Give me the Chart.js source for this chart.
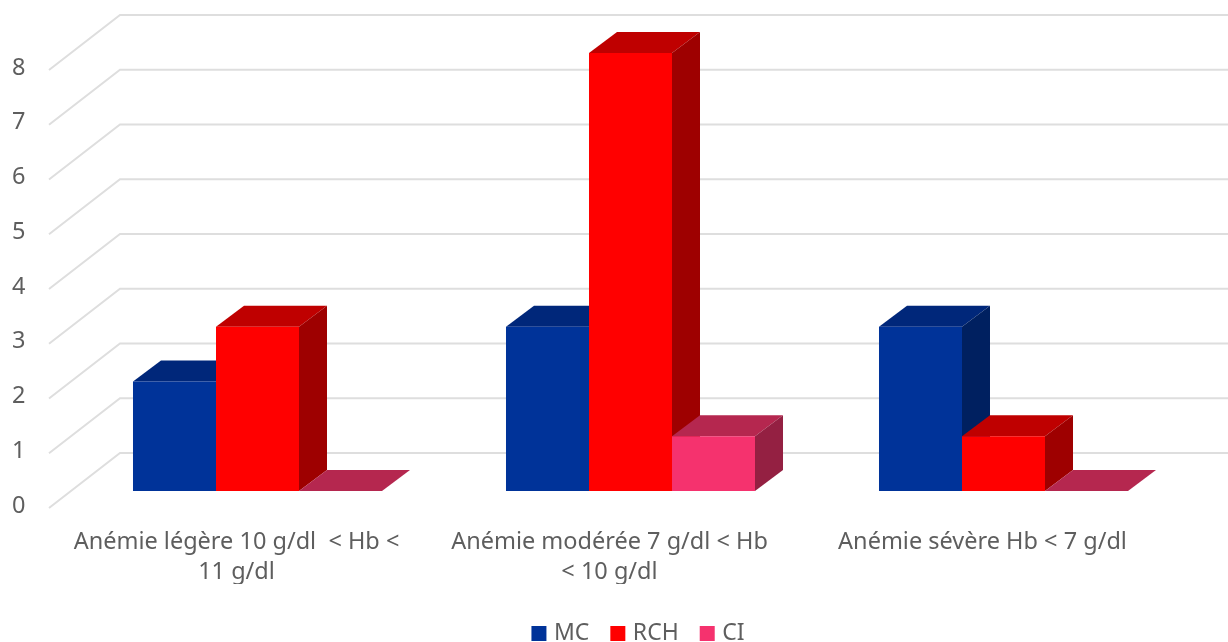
<!DOCTYPE html>
<html lang="fr">
<head>
  <meta charset="UTF-8">
  <title>Anémie : MC, RCH, CI</title>
  <script src="https://cdn.jsdelivr.net/npm/chart.js"></script>
  <style>
    * { margin: 0; padding: 0; }
    body { background: #fff; overflow: hidden; }
    canvas { display: block; }
  </style>
</head>
<body>
  <canvas id="chart" width="1228" height="642"></canvas>
  <script>
    const categories = [
      ['Anémie légère 10 g/dl  < Hb <', '11 g/dl'],
      ['Anémie modérée 7 g/dl < Hb', '< 10 g/dl'],
      ['Anémie sévère Hb < 7 g/dl']
    ];
    const mcValues  = [2, 3, 3];
    const rchValues = [3, 8, 1];
    const ciValues  = [0, 1, 0];

    const FONT = "'Noto Sans', sans-serif";
    const TEXT = '#5E5E5E';

    // couleurs des faces : avant, dessus, côté
    const SHADES = [
      { front: '#003399', top: '#00277A', side: '#002060' },
      { front: '#FF0000', top: '#BF0000', side: '#9E0000' },
      { front: '#F5326E', top: '#B5274F', side: '#942042' }
    ];

    // profondeur des barres et du mur du fond
    const BAR_DX = 28, BAR_DY = -21;
    const WALL_LEFT = 120, WALL_RIGHT = 1228, WALL_DY = -38;
    const FLOOR_LEFT = 49, FLOOR_DY = 17;

    const fakeDepth = {
      id: 'fakeDepth',
      afterLayout(chart) {
        // légende décalée vers la droite et le bas
        chart.legend.left += 39;
        chart.legend.right += 39;
        chart.legend.top += 13;
        chart.legend.bottom += 13;
      },
      beforeDatasetsDraw(chart) {
        const { ctx, scales: { y } } = chart;
        ctx.save();

        // grille sur le mur et le plancher gauche
        ctx.strokeStyle = '#DEDEDE';
        ctx.lineWidth = 2;
        ctx.lineJoin = 'miter';
        y.ticks.forEach(t => {
          const py = y.getPixelForValue(t.value);
          ctx.beginPath();
          ctx.moveTo(FLOOR_LEFT, py + FLOOR_DY);
          ctx.lineTo(WALL_LEFT, py + WALL_DY);
          ctx.lineTo(WALL_RIGHT, py + WALL_DY);
          ctx.stroke();
        });

        // dessus et côté de chaque barre, de gauche à droite
        const metas = chart.data.datasets.map((d, i) => chart.getDatasetMeta(i));
        categories.forEach((c, idx) => {
          metas.forEach((meta, i) => {
            const bar = meta.data[idx];
            const left = bar.x - bar.width / 2, right = bar.x + bar.width / 2;
            ctx.fillStyle = SHADES[i].top;
            ctx.beginPath();
            ctx.moveTo(left, bar.y);
            ctx.lineTo(left + BAR_DX, bar.y + BAR_DY);
            ctx.lineTo(right + BAR_DX, bar.y + BAR_DY);
            ctx.lineTo(right, bar.y);
            ctx.closePath();
            ctx.fill();
            ctx.fillStyle = SHADES[i].side;
            ctx.beginPath();
            ctx.moveTo(right, bar.y);
            ctx.lineTo(right + BAR_DX, bar.y + BAR_DY);
            ctx.lineTo(right + BAR_DX, bar.base + BAR_DY);
            ctx.lineTo(right, bar.base);
            ctx.closePath();
            ctx.fill();
          });
        });
        ctx.restore();
      }
    };

    new Chart(document.getElementById('chart'), {
      type: 'bar',
      data: {
        labels: categories,
        datasets: [
          { label: 'MC',  data: mcValues,  backgroundColor: SHADES[0].front },
          { label: 'RCH', data: rchValues, backgroundColor: SHADES[1].front },
          { label: 'CI',  data: ciValues,  backgroundColor: SHADES[2].front }
        ]
      },
      options: {
        responsive: false,
        animation: false,
        layout: { padding: { top: 53, right: 38, left: 12 } },
        datasets: { bar: { categoryPercentage: 0.6676, barPercentage: 1 } },
        plugins: {
          tooltip: { enabled: false },
          legend: {
            position: 'bottom',
            labels: {
              boxWidth: 7, boxHeight: 7, padding: 25,
              color: TEXT,
              font: { family: FONT, size: 23 },
              // petit carré + trait épais : le texte reste près du carré
              generateLabels: chart => Chart.defaults.plugins.legend.labels.generateLabels(chart)
                .map(l => ({ ...l, lineWidth: 8, strokeStyle: l.fillStyle }))
            }
          }
        },
        scales: {
          x: {
            grid: { display: false },
            border: { display: false },
            afterFit(s) { s.height = 93; },
            ticks: {
              color: TEXT,
              padding: 28,
              maxRotation: 0,
              autoSkip: false,
              labelOffset: -21,
              font: { family: FONT, size: 23.5, lineHeight: 1.28 }
            }
          },
          y: {
            min: 0,
            max: 8,
            grid: { display: false, drawTicks: false },
            border: { display: false },
            afterFit(s) { s.width = 59; },
            ticks: {
              stepSize: 1,
              color: TEXT,
              padding: 10,
              crossAlign: 'far',
              labelOffset: 15,
              font: { family: FONT, size: 23.5 }
            }
          }
        }
      },
      plugins: [fakeDepth]
    });
  </script>
</body>
</html>
